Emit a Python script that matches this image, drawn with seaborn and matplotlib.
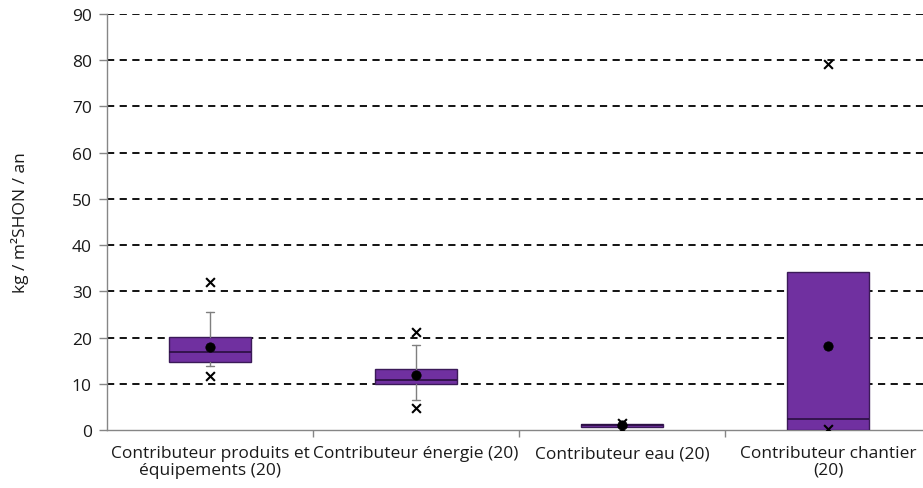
import matplotlib
matplotlib.use("Agg")
import matplotlib.pyplot as plt
import seaborn as sns
import pandas as pd

# values (kg / m2SHON / an)
categories = ["Contributeur produits et\néquipements (20)",
              "Contributeur énergie (20)",
              "Contributeur eau (20)",
              "Contributeur chantier\n(20)"]
q1 = [14.7, 9.9, 0.75, 0.0]
median = [16.9, 10.75, 1.0, 2.4]
q3 = [20.1, 13.3, 1.2, 34.1]
whisker_low = [13.8, 6.5, 0.75, 0.0]
whisker_high = [25.5, 18.4, 1.2, 34.1]
mean = [18.0, 11.8, 1.0, 18.1]
minimum = [11.6, 4.8, 0.2, 0.2]
maximum = [32.0, 21.1, 1.5, 79.2]

sns.set_theme(style="white")
plt.rcParams["font.family"] = ["Open Sans", "DejaVu Sans"]

fig = plt.figure(figsize=(9.23, 4.89), dpi=100)
ax = fig.add_axes([0.1159, 0.1186, 0.8928, 0.8507])

stats = []
for i in range(len(categories)):
    stats.append({"q1": q1[i], "med": median[i], "q3": q3[i],
                  "whislo": whisker_low[i], "whishi": whisker_high[i],
                  "fliers": []})
ax.bxp(stats, positions=range(len(categories)), widths=0.4,
       patch_artist=True, showfliers=False, capwidths=[0.04, 0.04, 0, 0],
       boxprops=dict(facecolor="#7030A0", edgecolor="#3b1a58", linewidth=1),
       medianprops=dict(color="#2a0f40", linewidth=1.2),
       whiskerprops=dict(color="#7f7f7f", linewidth=1),
       capprops=dict(color="#7f7f7f", linewidth=1), zorder=3)

pts = pd.DataFrame({"x": list(range(len(categories))), "mean": mean,
                    "min": minimum, "max": maximum})
sns.scatterplot(data=pts, x="x", y="mean", ax=ax, color="black", s=45,
                marker="o", edgecolor="black", zorder=5)
sns.scatterplot(data=pts, x="x", y="min", ax=ax, color="black", s=40,
                marker="x", linewidth=1.5, zorder=5)
sns.scatterplot(data=pts, x="x", y="max", ax=ax, color="black", s=40,
                marker="x", linewidth=1.5, zorder=5)

ax.set_xlim(-0.5, 3.5)
ax.set_ylim(0, 90)
ax.set_yticks(range(0, 91, 10))
ax.yaxis.grid(True, color="black", linestyle=(0, (4, 3)), linewidth=1.3)
ax.get_ygridlines()[0].set_visible(False)
ax.set_axisbelow(True)

ax.set_xticks(range(len(categories)))
ax.set_xticklabels(categories, fontsize=12.5, color="#1a1a1a", linespacing=1.05)
ax.set_xticks([0.5, 1.5, 2.5], minor=True)
ax.tick_params(axis="x", which="major", length=0, pad=11)
ax.tick_params(axis="x", which="minor", length=5, width=1, color="#868686",
               direction="out", bottom=True)
ax.tick_params(axis="y", length=6, width=1, color="#868686", direction="out",
               left=True, labelsize=12.5, labelcolor="#1a1a1a", pad=5)

ax.set_xlabel("")
ax.set_ylabel("kg / m²SHON / an", fontsize=12.5, color="#1a1a1a", labelpad=31)

for side in ["top", "right"]:
    ax.spines[side].set_visible(False)
for side in ["left", "bottom"]:
    ax.spines[side].set_color("#868686")
    ax.spines[side].set_linewidth(1)

fig.savefig("out.png", dpi=100)
